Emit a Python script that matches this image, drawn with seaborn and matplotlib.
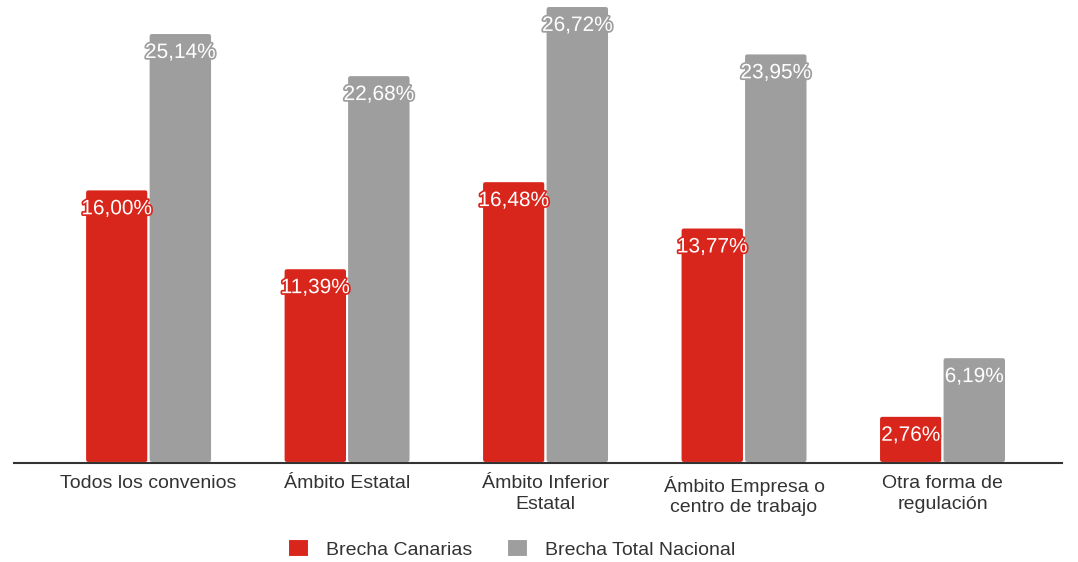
import pandas as pd
import numpy as np
import matplotlib
matplotlib.use("Agg")
from matplotlib import pyplot as plt
from matplotlib.patches import FancyBboxPatch
import matplotlib.patheffects as pe
import seaborn as sns

categorias = ["Todos los convenios", "Ámbito Estatal", "Ámbito Inferior\nEstatal",
              "Ámbito Empresa o\ncentro de trabajo", "Otra forma de\nregulación"]
brecha_canarias = [16.00, 11.39, 16.48, 13.77, 2.76]
brecha_nacional = [25.14, 22.68, 26.72, 23.95, 6.19]
series = ["Brecha Canarias", "Brecha Total Nacional"]
colores = {"Brecha Canarias": "#d9261c", "Brecha Total Nacional": "#9e9e9e"}

df = pd.DataFrame({
    "categoria": categorias * 2,
    "valor": brecha_canarias + brecha_nacional,
    "serie": [series[0]] * len(categorias) + [series[1]] * len(categorias),
})

sns.set_theme(style="white")
plt.rcParams["font.family"] = ["Liberation Sans", "DejaVu Sans"]

fig = plt.figure(figsize=(10.78, 5.62), dpi=100)
ax = fig.add_axes([14 / 1078, 99 / 562, 1048 / 1078, 463 / 562])
sns.barplot(df, x="categoria", y="valor", hue="serie", palette=colores, width=0.64,
            saturation=1, edgecolor="white", linewidth=1.5, ax=ax)

ax.set_xlim(-0.678, 4.602)
ax.set_ylim(0, 27.07)
for s in ["top", "right", "left"]:
    ax.spines[s].set_visible(False)
ax.spines["bottom"].set_color("#333333")
ax.spines["bottom"].set_linewidth(1.5)
ax.spines["bottom"].set_zorder(5)
ax.set_yticks([])
ax.set_xlabel("")
ax.set_ylabel("")
ax.tick_params(axis="x", length=0, pad=9, labelsize=14, labelcolor="#333333")
for t in ax.get_xticklabels():
    t.set_linespacing(1.25)

# esquinas redondeadas en las barras
aspecto = (1048 / 5.28) / (463 / 27.07)
for cont, serie in zip(ax.containers, series):
    col = colores[serie]
    for bar in cont:
        x, w, h = bar.get_x(), bar.get_width(), bar.get_height()
        bar.set_visible(False)
        ax.add_patch(FancyBboxPatch((x, 0), w, h, boxstyle="round,pad=0,rounding_size=0.018",
                                    mutation_aspect=aspecto, fc=col, ec="white", lw=1.5))
        txt = f"{h:.2f}%".replace(".", ",")
        ax.annotate(txt, (x + w / 2, h), xytext=(0, -14),
                    textcoords="offset points", ha="center", va="center",
                    color="white", fontsize=15, zorder=6,
                    path_effects=[pe.withStroke(linewidth=2.5, foreground=col)])

handles, labels = ax.get_legend_handles_labels()
ax.legend(handles, labels, frameon=False, ncols=2, loc="center",
          bbox_to_anchor=(0.475, -0.186), fontsize=14, handlelength=1.05,
          handleheight=1.05, columnspacing=1.8, handletextpad=0.9,
          labelcolor="#333333")

plt.savefig("out.png", dpi=100)
